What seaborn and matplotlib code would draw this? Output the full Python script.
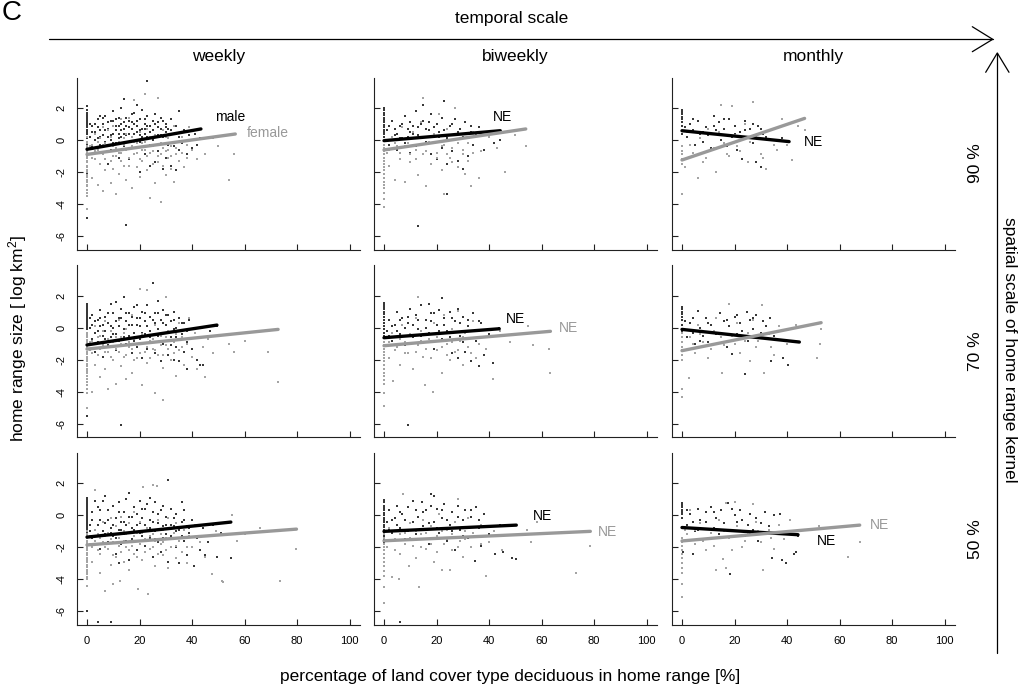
import matplotlib
matplotlib.use("Agg")
import matplotlib.pyplot as plt
from matplotlib.lines import Line2D
import pandas as pd
import seaborn as sns

# ---------------------------------------------------------------- categories
scales = ["weekly", "biweekly", "monthly"]
kernels = ["90 %", "70 %", "50 %"]
sexes = ["male", "female"]
x_ticks = [0, 20, 40, 60, 80, 100]
y_ticks = [-6, -4, -2, 0, 2]

# ------------------------------------------- home range observations (x %, log km2)
weekly90_male = [
    (0, 2.1), (0, 1.9), (0, 1.7), (0, 1.5), (0, 1.3), (0, 1.1), (0, 0.9), (0, 0.6), (0, 0.4), (0, 0.1),
    (0, -0.3), (0, -0.7), (0, -2.1), (0, -4.9), (1, 0.2), (2, 0.9), (2, -0.4), (3, 0.5), (3, -0.8),
    (4, 1.3), (4, 0.1), (5, 0.6), (5, -0.3), (6, 1.0), (6, 0.3), (7, 1.5), (7, -0.1), (8, 0.7), (8, 0.2),
    (9, 1.2), (9, -0.6), (10, 0.4), (10, 1.8), (11, 0.9), (11, -0.2), (12, 0.1), (12, 1.4), (13, 0.6),
    (13, 2.0), (14, -0.4), (14, 1.1), (15, 0.3), (14, 2.55), (16, 0.8), (16, -1.2), (17, 1.6), (17, 0.2),
    (18, 1.0), (18, -0.5), (19, 2.2), (19, 0.5), (20, 1.3), (20, -0.1), (21, 0.7), (21, 1.9), (22, -0.9),
    (22, 0.4), (23, 1.5), (23, 0.9), (23, 3.7), (24, -0.3), (25, 0.6), (25, 1.2), (26, -1.4), (26, 0.2),
    (27, 0.8), (27, -0.7), (28, 1.4), (28, 0.3), (29, -1.8), (29, 0.6), (30, 1.0), (30, -1.1), (31, 0.1),
    (31, 0.7), (32, 1.3), (32, -1.6), (33, 0.4), (33, -0.4), (34, 0.9), (34, -1.9), (35, 0.2), (35, 1.8),
    (36, -0.2), (37, 0.6), (38, -0.9), (39, 0.3), (40, -0.5), (41, 0.4), (42, -0.3), (43, 0.1), (15, -5.3),
    (20, -2.0), (24, -1.6), (12, -1.1), (8, -1.5), (5, 1.5), (10, 0.9), (14, 0.4), (18, 1.7), (22, 1.0),
    (26, 1.6), (30, 0.5), (11, 1.3), (17, 0.7), (3, 1.0),
    (1, 1.0), (2, 0.5), (3, 0.0), (4, 0.8), (5, 0.2), (6, 1.4), (6, -0.4), (7, 0.6), (8, 1.1), (9, 0.3),
    (9, 0.0), (10, 1.2), (10, -0.2), (11, 0.6), (12, 0.9), (12, 0.4), (13, 1.0), (13, 0.2), (14, 0.7),
    (15, 1.4), (15, 0.9), (16, 0.4), (16, 1.2), (17, 1.1), (18, 0.4), (19, 0.9), (19, 1.2), (20, 0.6),
    (20, 0.3), (21, 0.2), (22, 1.3), (22, 0.7), (23, 0.2), (24, 0.9), (24, 0.5), (25, 0.0), (26, 1.0),
    (27, 0.3), (27, 1.1), (28, 0.7), (29, 1.2), (29, 0.2), (30, 0.8), (31, -0.3), (32, 0.6), (33, 0.9),
    (34, 0.4), (35, -0.6), (36, 0.5), (0, 1.6), (0, 1.4), (0, 1.2), (0, 1.0), (0, 0.8), (0, 0.5), (0, 0.2),
    (0, -0.1), (0, -0.5),
]
weekly90_female = [
    (0, 0.2), (0, -0.1), (0, -0.4), (0, -0.7), (0, -1.0), (0, -1.3), (0, -1.6), (0, -1.9), (0, -2.2),
    (0, -2.5), (0, -2.8), (0, -3.1), (0, -3.5), (0, -4.3), (1, -0.9), (2, -2.4), (2, -0.3), (3, -1.2),
    (3, 0.4), (4, -2.8), (4, -0.6), (5, -1.5), (5, 0.1), (6, -0.9), (6, -3.2), (7, -0.2), (7, -1.9),
    (8, -0.7), (8, 0.6), (9, -1.3), (9, -2.7), (10, -0.4), (10, 0.9), (11, -1.0), (11, -3.4), (12, -0.1),
    (12, -2.1), (13, -0.8), (13, 1.3), (14, -1.6), (14, -0.3), (15, 0.4), (15, -2.5), (16, -1.1),
    (16, -0.5), (17, -3.0), (17, 0.2), (18, 2.5), (18, -0.9), (19, -1.7), (19, -0.2), (20, 0.5),
    (20, -2.3), (21, -0.6), (21, -1.3), (22, 2.9), (22, -0.1), (23, -1.9), (23, 0.7), (24, -0.8),
    (24, -3.6), (25, -0.4), (25, -1.5), (26, 0.3), (26, -2.7), (27, 2.6), (27, -1.0), (28, -3.9),
    (28, -0.2), (29, -1.6), (29, 0.6), (30, -0.7), (30, -2.2), (31, -1.1), (31, 0.1), (32, -0.4),
    (32, -1.8), (33, 0.9), (33, -2.6), (34, -0.9), (35, -1.3), (35, -0.1), (36, 0.2), (37, -1.7),
    (38, -0.3), (39, 0.8), (40, -0.6), (42, -1.2), (45, -0.9), (48, 0.1), (50, -0.4), (54, -2.5),
    (56, -0.9), (16, 1.4), (10, -1.8), (6, 0.8),
    (0, -0.2), (0, -0.5), (0, -0.8), (0, -1.1), (0, -1.4), (0, -1.7), (0, -2.0), (0, -2.3), (0, -2.6),
    (0, -2.9), (0, -3.3), (1, -0.4), (2, -1.1), (3, -0.7), (4, -0.1), (5, -0.8), (6, -0.3), (7, -1.2),
    (8, -0.4), (9, 0.2), (10, -1.0), (11, -0.5), (12, -0.8), (13, -1.3), (14, 0.1), (15, -0.6),
    (16, -1.6), (17, -0.4), (18, -0.1), (19, -0.8), (20, -1.2), (21, -0.2), (22, -0.6), (23, -1.0),
    (24, 0.2), (25, -0.7), (26, -0.3), (27, -1.4), (28, -0.9), (29, -0.5), (30, 0.2), (31, -0.6),
    (32, -1.0), (33, -0.1), (34, -0.5), (36, -0.8), (38, -1.1), (40, 0.0),
]
biweekly90_male = [
    (0, 2.0), (0, 1.7), (0, 1.4), (0, 1.1), (0, 0.8), (0, 0.5), (0, 0.2), (0, -0.9), (1, 0.6), (2, -0.3),
    (3, 1.2), (4, 0.3), (5, -0.6), (6, 0.9), (7, 0.1), (8, 1.5), (8, -0.2), (9, 0.7), (10, -0.8),
    (10, 1.1), (11, 0.4), (12, 1.8), (12, -0.4), (13, 0.8), (13, -5.4), (14, 0.2), (15, 2.2), (15, 1.2),
    (16, -0.1), (17, 0.6), (18, 1.6), (18, -0.9), (19, 0.3), (20, 1.0), (20, -1.2), (21, 0.5), (22, 1.4),
    (22, -0.5), (23, 2.45), (24, 0.1), (24, -1.5), (25, 0.9), (26, -0.7), (27, 1.3), (27, 0.3),
    (28, -1.3), (29, 0.7), (30, -1.8), (30, 0.2), (31, 1.1), (32, -1.0), (33, 0.5), (34, -0.3), (36, 0.8),
    (38, -0.6), (40, 0.3), (42, -0.2), (44, 0.0), (24, -3.4),
    (0, 1.85), (0, 1.55), (0, 1.25), (0, 0.95), (0, 0.65), (0, 0.35), (2, 0.9), (4, 0.7), (5, 0.4),
    (6, 0.1), (7, 1.0), (9, 0.2), (10, 0.5), (11, 0.9), (13, 0.3), (14, 1.0), (16, 0.7), (17, 1.1),
    (19, 0.8), (21, 0.2), (23, 0.6), (25, 0.3), (26, 1.0), (28, 0.5), (31, 0.4), (33, 0.9), (35, 0.3),
    (37, 0.5),
]
biweekly90_female = [
    (0, -0.3), (0, -0.7), (0, -1.1), (0, -1.5), (0, -1.9), (0, -2.4), (0, -2.8), (0, -3.3), (0, -3.7),
    (0, -4.2), (1, -0.8), (2, -1.6), (3, 0.2), (4, -2.5), (5, -0.4), (6, -1.2), (7, 0.8), (8, -2.6),
    (9, -0.2), (10, -1.4), (11, 0.5), (12, -0.6), (13, -2.2), (14, 1.1), (15, 2.6), (15, -0.9),
    (16, -2.9), (17, -0.1), (18, -1.5), (19, 0.4), (20, -0.8), (21, 1.6), (22, -1.9), (23, -3.4),
    (23, -0.3), (24, 0.7), (25, -1.1), (26, -0.5), (27, 2.0), (28, -1.7), (29, 0.1), (30, -0.9),
    (31, -2.1), (32, -0.2), (33, -2.9), (34, 0.5), (36, -2.4), (37, -0.7), (40, 0.2), (43, -0.5),
    (46, -2.0), (50, 0.3), (54, -0.4),
    (0, -0.5), (0, -0.9), (0, -1.3), (0, -1.7), (0, -2.1), (0, -2.6), (0, -3.0), (2, -0.6), (4, -0.2),
    (6, -0.8), (8, -0.4), (10, -0.9), (12, -1.2), (14, -0.3), (16, -0.7), (18, -0.2), (20, -1.1),
    (22, -0.4), (24, -0.9), (26, -1.4), (28, -0.2), (30, -0.6), (32, -1.3), (34, -0.8),
]
monthly90_male = [
    (0, 1.9), (0, 1.6), (0, 1.3), (0, 0.9), (0, 0.4), (2, 0.2), (3, 1.0), (4, 0.6), (5, -0.3), (6, 1.2),
    (7, 0.4), (8, -0.1), (9, 0.8), (10, 0.3), (11, -0.5), (12, 1.5), (13, 0.6), (14, 1.1), (15, 0.0),
    (16, 0.7), (17, -0.4), (18, 1.3), (19, 0.2), (20, 0.9), (21, -0.6), (22, 0.5), (23, -1.2), (24, 1.2),
    (25, 0.1), (26, 0.7), (27, -0.2), (28, -1.35), (29, 0.9), (30, -1.7), (31, 0.4), (33, 0.6),
    (35, -0.3), (38, 0.1), (40.8, -0.1),
    (0, 1.75), (0, 1.45), (0, 1.1), (1, 0.8), (4, 1.3), (8, 0.5), (12, 0.9), (16, 1.3), (20, 0.4),
    (24, 0.6), (27, 1.0), (30, 0.7), (32, 0.2),
]
monthly90_female = [
    (0, -0.4), (0, -0.9), (0, -1.5), (0, -3.4), (1, -1.7), (2, 0.5), (4, -0.8), (6, -2.4), (7, 0.1),
    (9, -1.1), (10, 0.7), (12, -0.5), (13, -2.0), (15, 2.2), (16, -0.2), (18, -1.0), (19, 2.1), (20, 0.3),
    (22, -0.7), (24, 1.0), (25, -1.4), (27, 2.4), (28, 0.2), (30, -0.9), (32, -1.8), (34, 0.6),
    (36, -0.6), (38, 1.3), (40, -0.3), (42, -1.25), (44, 0.9), (46.7, 0.6),
    (0, -0.7), (0, -1.2), (3, -0.3), (8, -1.4), (11, -0.6), (14, 0.5), (17, -0.9), (21, -0.4),
    (26, -0.1), (31, -1.1), (35, -0.3),
]
weekly70_male = [
    (0, 1.5), (0, 1.3), (0, 1.1), (0, 0.9), (0, 0.7), (0, 0.5), (0, 0.3), (0, 0.1), (0, -0.1), (0, -0.4),
    (0, -0.8), (0, -1.3), (0, -5.5), (1, 0.0), (2, -0.7), (2, 0.8), (3, -0.3), (3, -1.5), (4, 0.5),
    (4, -0.9), (5, 0.1), (5, 1.1), (6, -0.5), (6, -1.8), (7, 0.7), (7, -0.2), (8, 0.3), (8, -1.1),
    (9, 1.5), (9, -0.6), (10, 0.0), (10, 0.9), (11, -0.4), (11, -1.4), (12, 0.6), (12, -0.8), (13, 1.2),
    (13, -6.1), (14, 1.95), (14, -0.1), (15, 0.4), (15, -1.0), (16, 0.9), (16, -0.5), (17, -1.6),
    (17, 0.2), (18, 1.3), (18, -0.3), (19, 0.6), (19, -1.2), (20, -0.7), (20, 0.1), (21, 1.0), (21, -1.9),
    (22, 0.4), (22, -0.4), (23, 1.4), (23, -1.3), (24, -0.2), (24, 0.7), (25, 2.8), (25, -0.9), (26, 0.3),
    (26, -1.6), (27, 0.9), (27, -0.5), (28, -2.1), (28, 0.5), (29, 1.1), (29, -1.0), (30, -0.3),
    (30, 0.2), (31, 0.8), (31, -1.7), (32, -0.6), (32, 0.4), (33, -2.0), (33, 1.0), (34, -1.2), (34, 0.0),
    (35, 0.6), (35, -2.1), (36, -0.4), (37, -1.5), (37, 0.3), (38, -2.6), (38, -0.9), (39, 0.5),
    (40, -1.3), (41, -0.1), (42, -2.0), (43, -2.3), (44, -2.35), (45, -0.6), (47, -0.2), (49.5, 0.1),
    (11, 1.6), (27, 1.7), (19, 1.4), (33, -0.1),
    (0, 1.4), (0, 1.2), (0, 1.0), (0, 0.8), (0, 0.6), (0, 0.4), (0, 0.2), (0, 0.0), (0, -0.3), (0, -0.6),
    (1, 0.6), (2, 0.2), (3, 0.4), (4, -0.2), (5, 0.6), (6, 0.2), (7, -0.7), (8, 0.9), (9, 0.1),
    (10, -0.4), (11, 0.4), (12, 0.1), (13, 0.6), (14, -0.6), (15, 0.9), (16, 0.2), (17, 0.7), (18, -0.8),
    (19, 0.2), (20, 0.6), (21, -0.3), (22, 0.9), (23, 0.1), (24, -0.6), (25, 0.5), (26, 0.9), (27, -0.1),
    (28, -0.9), (29, 0.3), (30, 0.8), (31, -0.3), (32, -1.1), (33, 0.5), (34, -0.6), (35, -1.4),
    (36, 0.3), (38, -0.2),
]
weekly70_female = [
    (0, -0.3), (0, -0.6), (0, -0.9), (0, -1.2), (0, -1.5), (0, -1.8), (0, -2.1), (0, -2.4), (0, -2.7),
    (0, -3.0), (0, -3.4), (0, -3.8), (0, -4.1), (0, -5.0), (1, -1.4), (2, -4.0), (2, -0.8), (3, -2.3),
    (3, 0.1), (4, -1.7), (5, -3.1), (5, -0.5), (6, -1.1), (7, -2.6), (7, 0.4), (8, -3.85), (8, -1.5),
    (9, -0.2), (10, -2.0), (10, -0.9), (11, -3.5), (11, -1.3), (12, 0.5), (13, -2.4), (13, -0.6),
    (14, -1.8), (15, -3.2), (15, -0.1), (16, -1.2), (17, -2.8), (17, 0.8), (18, -0.7), (19, -1.9),
    (20, 2.4), (20, -1.0), (21, -3.6), (21, -0.4), (22, -1.5), (23, 2.35), (23, -2.2), (24, -0.8),
    (25, -1.3), (26, -4.1), (26, 0.2), (27, -1.7), (28, -0.5), (29, -4.5), (29, -2.5), (30, 1.9),
    (30, -1.1), (31, -0.2), (32, -2.0), (33, -0.9), (34, -3.0), (35, -1.4), (35, 0.3), (36, -0.6),
    (37, -2.3), (38, -1.0), (39, 0.6), (40, -1.8), (41, -0.3), (42, -2.6), (44, -1.2), (45, -3.1),
    (46, -0.7), (48, -1.6), (50, -0.5), (54, -1.0), (56, -1.5), (60, -0.8), (69, -1.5), (72.8, -3.4),
    (0, -0.45), (0, -0.75), (0, -1.05), (0, -1.35), (0, -1.65), (0, -1.95), (0, -2.25), (0, -2.55),
    (0, -2.85), (0, -3.2), (0, -3.6), (1, -0.9), (2, -1.6), (3, -1.0), (4, -0.6), (5, -1.3), (6, -0.2),
    (7, -1.5), (8, -0.7), (9, -1.8), (10, -1.2), (11, -0.6), (12, -1.5), (13, -1.0), (14, -0.3),
    (15, -1.7), (16, -0.9), (17, -1.3), (18, -2.0), (19, -0.6), (20, -1.6), (21, -1.0), (22, -0.5),
    (23, -1.2), (24, -1.9), (25, -0.7), (26, -1.4), (27, -0.4), (28, -1.1), (29, -1.7), (30, -0.6),
    (31, -1.3), (32, -0.8), (33, -1.6), (34, -0.4), (36, -1.2), (38, -0.7),
]
biweekly70_male = [
    (0, 1.55), (0, 1.3), (0, 1.0), (0, 0.7), (0, 0.3), (0, -0.1), (0, -0.5), (1, -0.2), (2, 0.5),
    (3, -0.8), (4, 0.2), (5, 1.0), (6, -0.4), (7, 0.6), (8, -1.1), (9, -6.1), (9, 0.3), (10, 1.2),
    (11, -0.6), (12, 0.8), (13, -0.1), (14, 1.4), (15, -0.9), (16, 0.5), (17, 1.47), (17, -0.3),
    (18, 0.9), (19, -1.3), (20, 0.2), (21, 1.1), (22, 1.85), (22, -0.7), (23, 0.6), (24, -0.2), (25, 1.0),
    (26, -1.6), (27, 0.4), (28, -1.9), (28, 1.2), (29, -0.5), (30, 0.7), (31, -1.5), (32, 0.1),
    (33, -2.1), (34, 0.9), (35, -0.8), (36, -2.4), (37, 0.3), (38, -1.7), (40, -0.4), (41.7, -2.2),
    (43.9, 0.0),
    (0, 1.4), (0, 1.15), (0, 0.85), (0, 0.5), (0, 0.1), (0, -0.3), (2, -0.5), (3, 0.1), (5, -0.2),
    (6, 0.5), (8, 0.0), (9, 0.7), (11, 0.2), (13, 0.5), (14, -0.5), (16, 0.0), (18, 0.4), (19, 0.9),
    (21, -0.2), (23, 0.2), (25, -0.6), (26, 0.6), (29, 0.3), (30, -0.9), (32, 0.5), (34, -0.2), (36, 0.4),
]
biweekly70_female = [
    (0, -0.9), (0, -1.3), (0, -1.7), (0, -2.1), (0, -2.6), (0, -3.0), (0, -3.5), (0, -4.1), (0, -4.9),
    (1, -0.6), (2, -1.9), (3, -0.3), (3.6, -3.3), (5, -1.2), (6, -2.3), (7, 0.2), (8, -0.9), (9, -1.6),
    (10, -0.4), (11, -2.6), (12, 0.6), (13, 1.95), (13, -1.1), (14, -0.2), (15, -1.8), (15.6, -3.6),
    (17, -0.7), (18.6, -4.0), (19, 0.3), (20, -1.4), (21, -0.4), (22, -2.8), (23, 0.8), (24, -1.0),
    (25, -2.0), (26, -0.1), (27, -1.5), (28, 1.07), (29, -0.8), (30, -2.3), (31, -0.3), (32, -1.2),
    (34, 0.4), (35, -1.9), (37, -0.6), (39, -1.3), (41.7, -3.2), (44, -0.2), (48, -0.9), (55, 0.1),
    (56.6, -1.1), (62.7, -1.3), (63.4, -2.8),
    (0, -1.1), (0, -1.5), (0, -1.9), (0, -2.35), (0, -2.8), (0, -3.25), (2, -0.9), (4, -1.4), (6, -0.7),
    (8, -1.6), (10, -1.0), (12, -1.5), (14, -0.8), (16, -1.3), (18, -1.9), (20, -0.6), (22, -1.2),
    (24, -1.7), (26, -0.9), (28, -1.4), (30, -0.6), (33, -1.6), (36, -1.0),
]
monthly70_male = [
    (0, 1.3), (0, 1.0), (0, 0.7), (0, 0.5), (0, -0.2), (2, -0.6), (3, 0.3), (4, -0.3), (5, -1.0),
    (6, 1.05), (7, 0.0), (8, -0.5), (9, 0.6), (10, -0.9), (11, 0.2), (12, -0.2), (14.5, 0.95), (15, -0.6),
    (16, 0.4), (17, -1.2), (18, 0.1), (19, -1.65), (20, 0.7), (21, -0.4), (22, 0.3), (24, -2.9),
    (24.7, 1.0), (25, -0.8), (26, 0.5), (27, -0.1), (28, 0.8), (30, -0.3), (31, 0.4), (33.6, 0.6),
    (33.8, -2.1), (35, -0.5), (38.4, -1.9), (40.3, -2.3), (44.7, -0.9),
    (0, 1.15), (0, 0.85), (0, 0.2), (1, 0.4), (4, 0.6), (7, -0.8), (10, 0.3), (13, -0.4), (17, 0.5),
    (21, 0.8), (23, -0.2), (27, 0.6), (29, -0.5), (32, 0.1),
]
monthly70_female = [
    (0, -0.3), (0, -0.9), (0, -1.4), (0, -2.0), (0, -3.8), (0, -4.35), (2.7, -3.15), (3, -0.6), (5, -1.6),
    (6, 0.2), (8, -0.9), (10, -1.9), (12, -0.2), (13, 0.6), (15.1, -2.8), (16, -1.1), (18, 1.5),
    (19, -0.5), (21, 0.3), (22, -1.6), (24, -0.8), (26, -2.1), (27, 0.5), (28, -1.2), (30.4, 1.4),
    (31.3, -2.8), (33, -0.4), (35, -1.7), (37, 0.1), (40, -1.0), (43.4, 0.2), (51.3, -1.9), (52.7, -1.0),
    (53, -0.05),
    (0, -0.6), (0, -1.2), (0, -1.7), (4, -1.0), (7, -0.4), (11, -1.3), (15, -0.6), (20, -1.0), (25, -0.3),
    (29, -0.8), (34, -1.2),
]
weekly50_male = [
    (0, 1.1), (0, 0.9), (0, 0.7), (0, 0.5), (0, 0.3), (0, 0.1), (0, -0.1), (0, -0.3), (0, -0.5), (0, -0.7),
    (0, -0.9), (0, -1.1), (0, -1.35), (0, -6.0), (1, -0.6), (2, 0.2), (2, -1.4), (3, -0.9), (4, 0.5),
    (4, -6.7), (5, -0.3), (5, -2.1), (6, 0.9), (6, -1.0), (7, -0.5), (8, 0.3), (8, -1.7), (9, -6.7),
    (9, -0.8), (10, 0.6), (10, -1.3), (11, -0.2), (11, -2.4), (12, 0.8), (12, -0.9), (13, -0.4),
    (13, -1.8), (14, 0.2), (14, -1.2), (15, 1.0), (15, -0.6), (16, 1.4), (16, -2.8), (17, -0.1),
    (17, -1.5), (18, 0.5), (18, -0.9), (19, -2.2), (19, 0.1), (20, -0.5), (20, 0.9), (21, -1.3),
    (21, -0.2), (22, 0.4), (22, -1.9), (23, -0.8), (23, 0.7), (24, -1.4), (24, -0.3), (25, 0.2),
    (25, -2.6), (26, -1.0), (26, 0.8), (27, -0.5), (27, -1.7), (28, 0.3), (28, -2.3), (29, -0.7),
    (29, 0.6), (30, -1.2), (30, -0.1), (31, 2.2), (31, -2.9), (32, -0.6), (32, 0.4), (33, -1.5),
    (33, -0.2), (34, 0.1), (34, -2.0), (35, -0.9), (35, -3.0), (36, -0.4), (37, -1.6), (37, 0.3),
    (38, -2.5), (38, -0.7), (39, -1.1), (40, -0.3), (40.8, -3.15), (42, -1.4), (43, -2.2), (44, -0.8),
    (45, -2.5), (46, -1.7), (48, -0.6), (49.5, -2.6), (51, -1.1), (53, -0.5), (54.8, -2.7), (3, 0.9),
    (7, 1.2), (12, -3.0), (24, 1.1), (36, 0.8),
    (0, 1.0), (0, 0.8), (0, 0.6), (0, 0.4), (0, 0.2), (0, 0.0), (0, -0.2), (0, -0.4), (0, -0.6), (0, -0.8),
    (0, -1.0), (0, -1.2), (1, -1.0), (2, -0.3), (3, -1.3), (4, -0.6), (5, 0.3), (6, -0.4), (7, -1.2),
    (8, -0.3), (9, -1.1), (10, -0.6), (11, -1.4), (12, 0.2), (13, -0.9), (14, -0.4), (15, -1.6),
    (16, -0.1), (17, -0.8), (18, -1.3), (19, -0.6), (20, -1.1), (21, 0.4), (22, -0.6), (23, -1.6),
    (24, -0.8), (25, -0.4), (26, -1.5), (27, 0.1), (28, -0.9), (29, -1.4), (30, -0.6), (31, -0.2),
    (32, -1.3), (33, -0.7), (34, -1.0), (36, -1.3), (37, -0.3), (39, -0.8),
]
weekly50_female = [
    (0, -1.0), (0, -1.3), (0, -1.6), (0, -1.9), (0, -2.2), (0, -2.5), (0, -2.8), (0, -3.1), (0, -3.4),
    (0, -3.7), (0, -4.0), (0, -4.45), (1, -1.8), (2, -2.9), (3, 1.6), (3, -0.9), (4, -2.2), (5, -3.6),
    (5, -1.4), (6, -0.4), (6.9, -4.75), (7, -2.0), (8, -1.1), (9, -3.1), (9, -0.2), (10, -4.3),
    (10, -1.7), (11, -2.6), (11, -0.7), (12.6, -4.1), (12, -1.4), (13, -0.1), (14, -2.9), (14, -1.0),
    (15, -2.0), (16, -0.5), (16, -3.4), (17, -1.6), (18, -2.4), (18, 0.2), (19.6, -4.6), (19, -1.1),
    (20, -0.4), (21, -2.8), (21.5, 1.75), (22, -1.5), (23.2, -4.95), (23, -0.8), (24, -2.1), (25.1, 1.9),
    (25, -1.2), (26.8, 1.8), (26, -3.2), (27, -0.3), (28, -1.8), (29, -2.5), (29, -0.9), (30, -1.4),
    (31, -3.3), (31, -0.2), (32, -2.0), (33, -1.1), (34, -2.7), (34, -0.5), (35, -1.6), (36, -2.3),
    (37, -0.9), (38, -3.0), (39, -1.3), (40, -2.0), (41, -0.6), (43, -1.7), (45, -2.6), (47.6, -3.7),
    (49, -1.0), (51.4, -4.1), (51.8, -4.2), (53, -0.5), (55.2, 0.0), (57, -1.6), (60, -1.2),
    (66, -0.77), (73.4, -4.1), (79.8, -2.1),
    (0, -1.15), (0, -1.45), (0, -1.75), (0, -2.05), (0, -2.35), (0, -2.65), (0, -2.95), (0, -3.25),
    (0, -3.55), (0, -3.85), (1, -1.3), (2, -2.0), (3, -1.6), (4, -1.2), (5, -2.4), (6, -1.7), (7, -1.3),
    (8, -2.1), (9, -1.5), (10, -2.5), (11, -1.2), (12, -1.9), (13, -2.3), (14, -1.6), (15, -1.2),
    (16, -2.2), (17, -1.9), (18, -1.3), (19, -2.6), (20, -1.8), (21, -1.1), (22, -2.3), (23, -1.6),
    (24, -1.3), (25, -2.0), (26, -1.6), (27, -2.4), (28, -1.2), (29, -1.7), (30, -2.2), (32, -1.5),
    (34, -1.9), (36, -1.4), (38, -2.0),
]
biweekly50_male = [
    (0, 0.96), (0, 0.6), (0, 0.3), (0, 0.0), (0, -0.3), (0, -0.6), (0, -0.9), (0, -1.3), (0, -1.7),
    (0, -2.15), (1, -0.4), (2, 0.3), (3, -1.1), (4, -0.2), (5, 0.6), (6, -6.7), (6, -0.8), (7, 0.1),
    (8, -1.5), (9, 0.5), (10, -0.5), (11, 0.9), (12, -1.2), (13, -0.1), (14.4, 0.8), (15, -0.7),
    (16, 0.3), (17, -1.8), (17.8, 1.3), (19.1, 1.2), (19, -0.4), (20, 0.4), (21, -1.1), (22, -0.2),
    (23, 0.7), (24, -1.6), (25, -0.6), (26, 0.2), (27, -2.2), (28, 0.6), (29, -0.9), (30, -0.3),
    (31, 0.3), (32, -1.4), (33, -0.1), (34.7, -2.85), (35, 0.5), (36, -0.8), (37, -1.9), (38, 0.1),
    (40, -1.2), (42.4, -2.4), (44, -0.6), (45.5, -2.3), (48.7, -2.7), (50.4, -2.75),
    (0, 0.8), (0, 0.45), (0, 0.15), (0, -0.15), (0, -0.45), (0, -0.75), (0, -1.1), (0, -1.5), (2, -0.9),
    (3, -0.3), (5, -0.6), (6, 0.2), (8, -0.3), (9, -1.0), (11, -0.4), (12, 0.3), (14, -0.9), (15, 0.2),
    (17, -0.5), (18, 0.6), (20, -0.8), (22, 0.3), (24, -0.3), (26, -1.0), (28, -0.1), (30, -1.3),
    (33, 0.3), (36, -0.3),
]
biweekly50_female = [
    (0, -1.0), (0, -1.4), (0, -1.8), (0, -2.2), (0, -2.7), (0, -3.2), (0, -3.8), (0, -4.5), (0, -5.5),
    (1, -2.0), (2, -0.8), (2.9, -3.85), (4, -1.5), (5.7, -4.0), (6, -2.4), (7.4, 1.3), (8, -1.1),
    (9.7, -3.15), (10, -0.5), (11, -1.9), (12, -2.7), (13.5, -4.5), (14, -1.2), (15, -0.3), (16, -2.1),
    (17, -1.5), (18, -0.7), (19, -2.9), (20, -1.3), (21, 0.1), (22, -3.45), (23, -1.8), (24, -0.9),
    (25.2, -3.4), (26, -2.2), (27, -0.4), (28, 1.0), (29, -1.6), (30, -2.6), (31, -1.0), (32, -0.2),
    (33, -2.0), (35, -1.3), (37, -0.6), (38.9, -3.8), (40, -1.7), (42, -1.0), (45, -2.2), (54.4, -0.9),
    (56, -1.7), (58.3, -0.45), (73.3, -3.6), (78.6, -1.95),
    (0, -1.2), (0, -1.6), (0, -2.0), (0, -2.45), (0, -2.95), (0, -3.5), (2, -1.6), (4, -2.2), (6, -1.2),
    (8, -1.8), (10, -1.4), (12, -1.0), (14, -2.0), (16, -1.1), (18, -1.8), (20, -2.3), (22, -1.0),
    (24, -1.5), (26, -1.2), (28, -2.0), (31, -1.5), (34, -1.1), (37, -1.8),
]
monthly50_male = [
    (0, 0.77), (0, 0.5), (0, 0.2), (0, -0.16), (0.5, -2.3), (2, -0.6), (3, 0.1), (4.1, -2.4), (5, -1.0),
    (6, 0.4), (7, -0.3), (8, -1.5), (9, 0.2), (11, 0.54), (12, -0.8), (13, -0.2), (14, -1.2), (15, 0.3),
    (16, -0.5), (17.7, 0.75), (18.3, -3.65), (19, -0.9), (20, 0.0), (21, -0.4), (22, 0.3), (24, -1.3),
    (25, -0.6), (26, 0.1), (27, -0.9), (28, -0.2), (29, -1.6), (31.7, 0.23), (33, -0.7), (34.2, -2.7),
    (36, -1.1), (37.4, 0.07), (38, -2.8), (39.7, -3.0), (42.5, -2.4), (43.5, -2.3), (44.2, -1.3),
    (0, 0.65), (0, 0.35), (0, 0.05), (2, 0.3), (4, -0.4), (6, -0.9), (9, -0.4), (12, 0.2), (15, -0.9),
    (19, 0.4), (23, -0.3), (26, -1.1), (30, -0.5), (35, 0.0),
]
monthly50_female = [
    (0, -1.4), (0, -1.9), (0, -2.4), (0, -3.0), (0, -3.6), (0, -4.3), (0, -5.1), (1, -0.9), (3.1, 0.3),
    (5, -1.8), (7, -0.5), (9, -2.2), (11, -1.1), (13, -3.45), (14, -0.3), (15.5, -2.75), (16.8, 0.75),
    (16.8, -3.3), (18, -1.4), (20.2, 0.85), (21, -0.7), (23, -2.0), (25, -1.2), (27.2, 0.7), (28, -0.4),
    (30, -1.7), (31, -3.4), (33, -0.9), (35, -2.1), (37, -0.6), (39, -1.5), (41.2, -0.33), (52, -0.66),
    (63.2, -2.6), (67.7, -1.7),
    (0, -1.65), (0, -2.15), (0, -2.7), (0, -3.3), (2, -1.2), (5, -0.9), (8, -1.6), (12, -1.9), (16, -1.0),
    (19, -2.2), (24, -1.6), (29, -1.0), (34, -1.4),
]

# ------------------- fitted linear trends per panel (rows: 90, 70, 50 %; cols: weekly, biweekly, monthly)
male_fit_xmax = [43.4, 44.3, 40.8, 49.5, 43.9, 44.7, 54.8, 50.4, 44.2]
male_fit_y0 = [-0.58, -0.04, 0.58, -1.07, -0.62, -0.10, -1.37, -1.01, -0.77]
male_fit_y1 = [0.69, 0.58, -0.10, 0.17, -0.06, -0.89, -0.43, -0.62, -1.22]
female_fit_xmax = [56.5, 54.0, 46.7, 72.8, 63.4, 53.0, 79.8, 78.6, 67.7]
female_fit_y0 = [-0.90, -0.62, -1.25, -1.33, -1.12, -1.43, -1.86, -1.60, -1.61]
female_fit_y1 = [0.375, 0.69, 1.35, -0.10, -0.22, 0.32, -0.87, -1.01, -0.62]

# trend labels: kernel, scale, sex, text, anchor (x %, log km2)
trend_labels = [
    ("90 %", "weekly", "male", "male", 48.9, 1.45),
    ("90 %", "weekly", "female", "female", 61.0, 0.44),
    ("90 %", "biweekly", "male", "NE", 41.5, 1.42),
    ("90 %", "monthly", "male", "NE", 46.6, -0.12),
    ("70 %", "biweekly", "male", "NE", 46.3, 0.53),
    ("70 %", "biweekly", "female", "NE", 66.8, -0.03),
    ("50 %", "biweekly", "male", "NE", 56.6, -0.08),
    ("50 %", "biweekly", "female", "NE", 81.5, -1.05),
    ("50 %", "monthly", "female", "NE", 71.6, -0.60),
    ("50 %", "monthly", "male", "NE", 51.3, -1.60),
]

panel_points = {
    ("90 %", "weekly"): (weekly90_male, weekly90_female),
    ("90 %", "biweekly"): (biweekly90_male, biweekly90_female),
    ("90 %", "monthly"): (monthly90_male, monthly90_female),
    ("70 %", "weekly"): (weekly70_male, weekly70_female),
    ("70 %", "biweekly"): (biweekly70_male, biweekly70_female),
    ("70 %", "monthly"): (monthly70_male, monthly70_female),
    ("50 %", "weekly"): (weekly50_male, weekly50_female),
    ("50 %", "biweekly"): (biweekly50_male, biweekly50_female),
    ("50 %", "monthly"): (monthly50_male, monthly50_female),
}

# ------------------------------------------------------------- tidy frames
rows = []
for (kernel, scale), (m_pts, f_pts) in panel_points.items():
    for sex, pts in (("male", m_pts), ("female", f_pts)):
        for x, y in pts:
            rows.append({"kernel": kernel, "scale": scale, "sex": sex, "deciduous": x, "hr": y})
obs = pd.DataFrame(rows)

fit_rows = []
i = 0
for kernel in kernels:
    for scale in scales:
        fit_rows += [
            {"kernel": kernel, "scale": scale, "sex": "male", "deciduous": 0.0, "hr": male_fit_y0[i]},
            {"kernel": kernel, "scale": scale, "sex": "male", "deciduous": male_fit_xmax[i], "hr": male_fit_y1[i]},
            {"kernel": kernel, "scale": scale, "sex": "female", "deciduous": 0.0, "hr": female_fit_y0[i]},
            {"kernel": kernel, "scale": scale, "sex": "female", "deciduous": female_fit_xmax[i], "hr": female_fit_y1[i]},
        ]
        i += 1
fits = pd.DataFrame(fit_rows)

# ------------------------------------------------------------------ styling
sns.set_theme(style="white")
plt.rcParams["font.family"] = ["Liberation Sans", "DejaVu Sans"]
plt.rcParams["mathtext.default"] = "regular"
plt.rcParams["axes.unicode_minus"] = False
for key in ("text.color", "axes.labelcolor", "xtick.color", "ytick.color"):
    plt.rcParams[key] = "black"

point_colors = {"male": "#383838", "female": "#a4a4a4"}
line_colors = {"male": "#000000", "female": "#999999"}
label_colors = {"male": "#000000", "female": "#999999"}

W, H = 1024, 691
fig = plt.figure(figsize=(W / 100, H / 100), dpi=100)


def fx(px):
    return px / W


def fy(py):
    return 1 - py / H


col_left = [76.5, 373.5, 671.5]
row_top = [77.6, 265.4, 452.8]
ax_w, ax_h = 283.5, 172.0

for r, kernel in enumerate(kernels):
    for c, scale in enumerate(scales):
        ax = fig.add_axes([fx(col_left[c]), fy(row_top[r] + ax_h), ax_w / W, ax_h / H])
        panel = obs[(obs.kernel == kernel) & (obs.scale == scale)]
        for sex in sexes:
            sns.scatterplot(data=panel[panel.sex == sex], x="deciduous", y="hr",
                            color=point_colors[sex], marker="s", s=4, linewidth=0,
                            legend=False, ax=ax, zorder=2)
        pf = fits[(fits.kernel == kernel) & (fits.scale == scale)]
        for sex in sexes:
            sns.lineplot(data=pf[pf.sex == sex], x="deciduous", y="hr", color=line_colors[sex],
                         linewidth=2.4, estimator=None, sort=False, legend=False, ax=ax, zorder=3)
        for k, s, sex, txt, tx, ty in trend_labels:
            if k == kernel and s == scale:
                ax.text(tx, ty, txt, color=label_colors[sex], fontsize=10, ha="left", va="center")

        ax.set_xlim(-4, 104)
        ax.set_ylim(-6.85, 3.9)
        ax.set_xticks(x_ticks)
        ax.set_yticks(y_ticks)
        ax.set_xlabel("")
        ax.set_ylabel("")
        ax.grid(False)
        for side in ("top", "right"):
            ax.spines[side].set_visible(False)
        for side in ("left", "bottom"):
            ax.spines[side].set_linewidth(0.8)
            ax.spines[side].set_color("#222222")
        ax.tick_params(direction="in", length=4, width=0.8, color="#222222",
                       labelsize=8, left=True, bottom=True)
        ax.tick_params(axis="x", pad=8)
        ax.tick_params(axis="y", pad=7)
        if c == 0:
            ax.set_yticklabels([str(v) for v in y_ticks], rotation=90, va="center")
        else:
            ax.set_yticklabels([])
        if r == 2:
            ax.set_xticklabels([str(v) for v in x_ticks])
        else:
            ax.set_xticklabels([])

# ------------------------------------------------------ figure annotations
fs_title = 12.5
fig.text(fx(2), fy(12.5), "C", fontsize=20, ha="left", va="center")
fig.text(fx(512), fy(18), "temporal scale", fontsize=fs_title, ha="center", va="center")
for c, scale in enumerate(scales):
    fig.text(fx(col_left[c] + ax_w / 2), fy(56), scale, fontsize=fs_title, ha="center", va="center")
for r, kernel in enumerate(kernels):
    fig.text(fx(975), fy(row_top[r] + ax_h / 2), kernel, fontsize=fs_title, rotation=90,
             ha="center", va="center")
fig.text(fx(1010), fy(350), "spatial scale of home range kernel", fontsize=fs_title,
         rotation=270, ha="center", va="center")
fig.text(fx(18), fy(338), "home range size [ log km$^2$]", fontsize=fs_title, rotation=90,
         ha="center", va="center")
fig.text(fx(510), fy(676), "percentage of land cover type deciduous in home range [%]",
         fontsize=fs_title, ha="center", va="center")

# axis arrows (temporal to the right, spatial upward)
arrow_kw = dict(color="black", linewidth=0.9, transform=fig.transFigure)
fig.add_artist(Line2D([fx(49.3), fx(992.7)], [fy(39.3), fy(39.3)], **arrow_kw))
fig.add_artist(Line2D([fx(972.3), fx(992.7), fx(972.3)], [fy(26.7), fy(39.3), fy(51.7)], **arrow_kw))
fig.add_artist(Line2D([fx(997.3), fx(997.3)], [fy(652.7), fy(53)], **arrow_kw))
fig.add_artist(Line2D([fx(985.7), fx(997.3), fx(1009)], [fy(72.3), fy(53), fy(72.3)], **arrow_kw))

fig.savefig("out.png", dpi=100)
